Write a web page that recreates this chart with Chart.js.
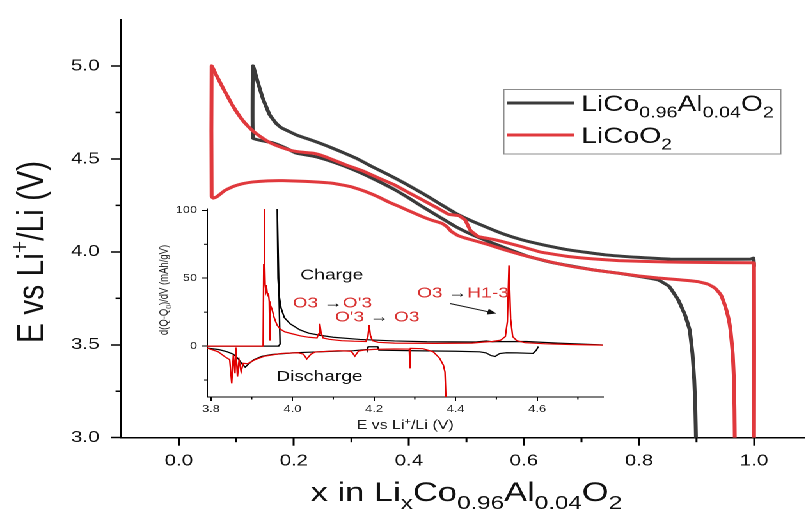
<!DOCTYPE html>
<html><head><meta charset="utf-8">
<script src="https://cdn.jsdelivr.net/npm/chart.js@4.4.1/dist/chart.umd.min.js"></script>
<style>
html,body{margin:0;padding:0;background:#fff;overflow:hidden;width:806px;height:510px;}
#stage{position:absolute;left:0;top:0;width:630px;height:510px;transform:scaleX(1.2794);transform-origin:0 0;}
#mainBox{position:absolute;left:0;top:0;width:630px;height:510px;}
#insetBox{position:absolute;left:115px;top:200px;width:360px;height:232px;}
</style></head><body>
<div id="stage"><div id="mainBox"><canvas id="main"></canvas></div><div id="insetBox"><canvas id="inset"></canvas></div></div>
<script>
// ---------- main plot data: [x in LixCo..., E (V)] ----------
const alCharge = [[1.0,3.92],[0.999,3.966],[0.994,3.961],[0.93,3.96],[0.855,3.961],[0.8,3.97],[0.741,3.984],[0.677,4.011],[0.63,4.04],[0.596,4.065],[0.565,4.095],[0.539,4.127],[0.51,4.165],[0.481,4.208],[0.452,4.262],[0.423,4.316],[0.395,4.365],[0.365,4.414],[0.335,4.46],[0.308,4.504],[0.285,4.535],[0.267,4.558],[0.245,4.585],[0.221,4.611],[0.205,4.628],[0.192,4.647],[0.178,4.668],[0.169,4.692],[0.158,4.737],[0.146,4.826],[0.137,4.916],[0.129,5.0]];
const alDischarge = [[0.129,4.611],[0.146,4.597],[0.165,4.585],[0.185,4.56],[0.204,4.531],[0.238,4.512],[0.265,4.487],[0.29,4.459],[0.32,4.42],[0.348,4.378],[0.375,4.335],[0.4,4.289],[0.423,4.244],[0.452,4.19],[0.481,4.136],[0.51,4.092],[0.539,4.055],[0.575,4.012],[0.608,3.975],[0.645,3.945],[0.68,3.925],[0.72,3.903],[0.764,3.885],[0.8,3.868],[0.833,3.849],[0.852,3.815],[0.868,3.742],[0.88,3.66],[0.888,3.58],[0.893,3.45],[0.896,3.31],[0.898,3.15],[0.899,3.0]];
const lcoCharge = [[1.0,3.0],[1.0,3.94],[0.994,3.941],[0.9,3.943],[0.85,3.945],[0.764,3.953],[0.72,3.962],[0.677,3.975],[0.63,3.998],[0.596,4.028],[0.55,4.065],[0.521,4.082],[0.507,4.115],[0.498,4.17],[0.487,4.194],[0.469,4.202],[0.45,4.235],[0.423,4.28],[0.4,4.318],[0.375,4.36],[0.348,4.396],[0.32,4.435],[0.29,4.468],[0.261,4.504],[0.245,4.522],[0.233,4.531],[0.218,4.535],[0.204,4.54],[0.19,4.55],[0.175,4.566],[0.16,4.585],[0.146,4.611],[0.129,4.65],[0.115,4.693],[0.106,4.728],[0.094,4.785],[0.085,4.835],[0.077,4.88],[0.065,4.952],[0.057,5.0]];
const lcoDischarge = [[0.057,4.297],[0.06,4.289],[0.066,4.296],[0.08,4.33],[0.094,4.351],[0.11,4.366],[0.129,4.376],[0.155,4.382],[0.181,4.383],[0.22,4.379],[0.267,4.369],[0.3,4.35],[0.325,4.324],[0.345,4.298],[0.365,4.268],[0.383,4.244],[0.405,4.214],[0.423,4.19],[0.44,4.17],[0.457,4.154],[0.466,4.135],[0.474,4.109],[0.485,4.088],[0.498,4.074],[0.52,4.055],[0.539,4.038],[0.565,4.012],[0.596,3.984],[0.64,3.95],[0.682,3.922],[0.72,3.903],[0.764,3.885],[0.8,3.87],[0.833,3.859],[0.87,3.85],[0.902,3.84],[0.92,3.826],[0.932,3.805],[0.942,3.77],[0.949,3.715],[0.955,3.65],[0.959,3.581],[0.963,3.45],[0.965,3.312],[0.966,3.15],[0.9665,3.0]];
const seriesLabels = ['LiCo_{0.96}Al_{0.04}O_{2}', 'LiCoO_{2}'];
const mainXTicks = [0.0,0.2,0.4,0.6,0.8,1.0];
const mainXMinor = [0.1,0.3,0.5,0.7,0.9];
const mainYTicks = [3.0,3.5,4.0,4.5,5.0];
const mainYMinor = [3.25,3.75,4.25,4.75];
const mainXTitle = 'x in Li_{x}Co_{0.96}Al_{0.04}O_{2}';
const mainYTitle = 'E vs Li^{+}/Li (V)';

// ---------- inset data: [E (V), d(Q-Q0)/dV] ----------
const insetRedCharge = [[3.791,0],[3.928,0],[3.9295,60],[3.930,104],[3.931,104],[3.932,70],[3.933,45],[3.935,40],[3.937,42],[3.939,37],[3.941,39],[3.943,33],[3.9445,4],[3.946,30],[3.950,27],[3.955,21],[3.962,15.5],[3.970,12.5],[3.981,10.5],[4.0,9],[4.02,7.5],[4.04,6.5],[4.06,6],[4.064,9],[4.067,16.5],[4.070,10],[4.075,6],[4.09,5],[4.12,4],[4.15,3.6],[4.18,3.4],[4.185,7],[4.188,15.5],[4.191,8],[4.196,4],[4.21,2.8],[4.25,2.2],[4.35,2.0],[4.44,2.2],[4.47,3.0],[4.49,3.4],[4.51,4.3],[4.522,7],[4.527,18],[4.531,59.5],[4.535,20],[4.54,7],[4.55,4],[4.57,2.5],[4.62,1.7],[4.68,1.2],[4.7615,0.7]];
const insetBlackCharge = [[3.791,0],[3.966,0],[3.9695,1.5],[3.9625,104],[3.9635,104],[3.9645,50],[3.967,38],[3.972,28],[3.98,21],[3.994,16.5],[4.018,12],[4.04,9.5],[4.067,8],[4.1,6.5],[4.165,4.9],[4.25,3.8],[4.329,3.2],[4.45,3.0],[4.475,3.8],[4.49,3.2],[4.5,3.3],[4.574,3.4],[4.65,2.2],[4.7615,0.8]];
const insetRedDischarge = [[4.3765,-40],[4.374,-19],[4.370,-14],[4.361,-9],[4.345,-4.2],[4.32,-1.9],[4.2895,-1.7],[4.288,-16.4],[4.2865,-2.2],[4.25,-2.1],[4.2,-2.4],[4.177,-2.9],[4.162,-3.6],[4.153,-7.4],[4.144,-3.8],[4.112,-3.4],[4.055,-4.4],[4.045,-6],[4.035,-9.5],[4.027,-6],[4.014,-4.9],[3.973,-5.4],[3.932,-7.4],[3.908,-10],[3.89,-13],[3.879,-12.7],[3.874,-18.9],[3.869,-10.3],[3.865,-22.5],[3.861,-1],[3.859,-20],[3.855,-6.6],[3.851,-27.4],[3.846,-10],[3.834,-7.8],[3.818,-4.2],[3.791,-1.5]];
const insetBlackDischarge = [[4.603,-0.3],[4.598,-3],[4.59,-5.4],[4.55,-5],[4.525,-4.9],[4.508,-5.5],[4.497,-7.6],[4.487,-7],[4.475,-5],[4.459,-4.2],[4.40,-3.8],[4.3,-3.4],[4.212,-3],[4.209,-0.5],[4.186,-0.5],[4.184,-2.5],[4.15,-3.4],[4.1,-3.8],[4.05,-4.4],[4.0,-5],[3.95,-6.2],[3.925,-7.5],[3.905,-10],[3.893,-13],[3.884,-15.5],[3.876,-13],[3.866,-9],[3.855,-6],[3.84,-4.2],[3.82,-2.6],[3.791,-1.5]];
const insetXTicks = [3.8,4.0,4.2,4.4,4.6];
const insetXMinor = [3.9,4.1,4.3,4.5,4.7];
const insetYTicks = [0,50,100];
const insetYMinor = [-25,25,75];
const insetXTitle = 'E vs Li^{+}/Li (V)';
const insetYTitle = 'd(Q-Q_{0})/dV (mAh/gV)';
const insetNotes = ['Charge', 'Discharge', "O3 \u2192O'3", "O'3 \u2192 O3", 'O3 \u2192H1-3'];
const insetNoteAt = [[4.0966,52.2],[4.066,-22.8],[4.0978,31.6],[4.208,21.3],[4.418,38.8]];
const insetNoteColor = ['#111','#111','#d8302f','#d8302f','#d8302f'];
const insetArrow = [[4.386,31.4],[4.5,24]];

// ---------- styles ----------
const FONT = "'Liberation Sans', Arial, Helvetica, sans-serif";
const mainBlack = '#3b3b3b', mainRed = '#e0393d';
const insetBlack = '#000000', insetRed = '#e00000';

function fontOf(sz, bold){ return (bold ? 'bold ' : '') + sz + 'px ' + FONT; }
function toXY(a){ return a.map(p => ({x:p[0], y:p[1]})); }
function parseRich(s){
  const out = []; const re = /([_^])\{([^}]*)\}/g; let last = 0, m;
  while ((m = re.exec(s))) {
    if (m.index > last) out.push({t:s.slice(last, m.index), k:0});
    out.push({t:m[2], k: m[1] === '_' ? 1 : 2});
    last = re.lastIndex;
  }
  if (last < s.length) out.push({t:s.slice(last), k:0});
  return out;
}
function drawRich(ctx, s, x, y, size, align, color){
  const segs = parseRich(s), ss = size * 0.7;
  let w = 0;
  segs.forEach(g => { ctx.font = fontOf(g.k ? ss : size); g.w = ctx.measureText(g.t).width; w += g.w; });
  let cx = align === 'center' ? x - w / 2 : x;
  ctx.fillStyle = color; ctx.textAlign = 'left'; ctx.textBaseline = 'alphabetic';
  segs.forEach(g => {
    ctx.font = fontOf(g.k ? ss : size);
    const dy = g.k === 1 ? size * 0.3 : (g.k === 2 ? -size * 0.38 : 0);
    ctx.fillText(g.t, cx, y + dy); cx += g.w;
  });
}
function drawMinor(chart, id, values, len, width){
  const s = chart.scales[id], ctx = chart.ctx;
  ctx.save(); ctx.strokeStyle = '#000'; ctx.lineWidth = width;
  values.forEach(v => {
    const p = s.getPixelForValue(v);
    ctx.beginPath();
    if (s.isHorizontal()) { ctx.moveTo(p, s.top); ctx.lineTo(p, s.top + len); }
    else { ctx.moveTo(s.right, p); ctx.lineTo(s.right - len, p); }
    ctx.stroke();
  });
  ctx.restore();
}
function zeroPad(s){ s.paddingLeft = 0; s.paddingRight = 0; s.paddingTop = 0; s.paddingBottom = 0; }
function fmt1(v){ return Number(v).toFixed(1); }

const mainDeco = {
  id: 'mainDeco',
  afterDraw(chart){
    const ctx = chart.ctx;
    drawMinor(chart, 'x', mainXMinor, 4.5, 1.5);
    drawMinor(chart, 'y', mainYMinor, 4.5, 1.5);
    ctx.save();
    drawRich(ctx, mainXTitle, 364.5, 501, 27, 'center', '#111');
    ctx.save(); ctx.translate(34, 252); ctx.rotate(-Math.PI / 2);
    drawRich(ctx, mainYTitle, 0, 0, 30, 'center', '#111');
    ctx.restore();
    // legend
    ctx.strokeStyle = '#8c8c8c'; ctx.lineWidth = 1;
    ctx.strokeRect(393.75, 89.5, 216.5, 64.5);
    chart.data.datasets.forEach((ds, i) => {
      const y = 103 + i * 32;
      ctx.strokeStyle = ds.borderColor; ctx.lineWidth = 3;
      ctx.beginPath(); ctx.moveTo(396, y); ctx.lineTo(448.5, y); ctx.stroke();
      drawRich(ctx, seriesLabels[i], 454.4, y + 8, 22, 'left', '#111');
    });
    ctx.restore();
  }
};

const insetDeco = {
  id: 'insetDeco',
  afterDraw(chart){
    const ctx = chart.ctx, a = chart.chartArea, xs = chart.scales.x, ys = chart.scales.y;
    drawMinor(chart, 'x', insetXMinor, 2.5, 1);
    drawMinor(chart, 'y', insetYMinor, 2.5, 1);
    ctx.save();
    drawRich(ctx, insetXTitle, (a.left + a.right) / 2, 229, 12.5, 'center', '#222');
    ctx.save(); ctx.translate(16, 90); ctx.rotate(-Math.PI / 2);
    drawRich(ctx, insetYTitle, 0, 0, 9.5, 'center', '#222');
    ctx.restore();
    // annotations
    insetNotes.forEach((t, i) => {
      const px = xs.getPixelForValue(insetNoteAt[i][0]), py = ys.getPixelForValue(insetNoteAt[i][1]);
      const parts = t.split('\u2192');
      ctx.textBaseline = 'middle'; ctx.textAlign = 'left';
      ctx.font = fontOf(15, true);
      const arrowW = ctx.measureText('\u2192').width;
      ctx.font = fontOf(15);
      let w = 0; parts.forEach(p => { w += ctx.measureText(p).width; });
      w += (parts.length - 1) * arrowW;
      let cx = px - w / 2;
      parts.forEach((p, j) => {
        ctx.font = fontOf(15);
        ctx.fillStyle = insetNoteColor[i]; ctx.fillText(p, cx, py); cx += ctx.measureText(p).width;
        if (j < parts.length - 1) { ctx.font = fontOf(15, true); ctx.fillStyle = '#111'; ctx.fillText('\u2192', cx, py); cx += arrowW; }
      });
    });
    // arrow
    const x1 = xs.getPixelForValue(insetArrow[0][0]), y1 = ys.getPixelForValue(insetArrow[0][1]);
    const x2 = xs.getPixelForValue(insetArrow[1][0]), y2 = ys.getPixelForValue(insetArrow[1][1]);
    const ang = Math.atan2(y2 - y1, x2 - x1);
    ctx.strokeStyle = '#111'; ctx.fillStyle = '#111'; ctx.lineWidth = 1;
    ctx.beginPath(); ctx.moveTo(x1, y1); ctx.lineTo(x2 - 5 * Math.cos(ang), y2 - 5 * Math.sin(ang)); ctx.stroke();
    ctx.beginPath(); ctx.moveTo(x2, y2);
    ctx.lineTo(x2 - 7 * Math.cos(ang) + 3 * Math.sin(ang), y2 - 7 * Math.sin(ang) - 3 * Math.cos(ang));
    ctx.lineTo(x2 - 7 * Math.cos(ang) - 3 * Math.sin(ang), y2 - 7 * Math.sin(ang) + 3 * Math.cos(ang));
    ctx.closePath(); ctx.fill();
    ctx.restore();
  }
};

new Chart(document.getElementById('main'), {
  type: 'scatter',
  data: { datasets: [
    { label: 'LiCo0.96Al0.04O2', data: toXY(alCharge.concat(alDischarge)), borderColor: mainBlack, backgroundColor: mainBlack, showLine: true, borderWidth: 3, pointRadius: 0, tension: 0.1, order: 1 },
    { label: 'LiCoO2', data: toXY(lcoCharge.concat(lcoDischarge)), borderColor: mainRed, backgroundColor: mainRed, showLine: true, borderWidth: 3, pointRadius: 0, tension: 0.1, order: 0 }
  ]},
  options: {
    responsive: true, maintainAspectRatio: false, animation: false, devicePixelRatio: 2, events: [],
    layout: { padding: { left: 0, right: 0, top: 19.5, bottom: 0 } },
    plugins: { legend: { display: false }, tooltip: { enabled: false } },
    scales: {
      x: { type: 'linear', min: -0.1, max: 1.087,
        afterBuildTicks: s => { s.ticks = mainXTicks.map(v => ({value: v})); },
        afterFit: s => { s.height = 72.3; zeroPad(s); },
        grid: { drawOnChartArea: false, drawTicks: true, tickLength: 8, tickWidth: 1.5, tickColor: '#000' },
        border: { display: true, color: '#000', width: 1.5 },
        ticks: { font: { family: FONT, size: 16 }, color: '#111', padding: 6, maxRotation: 0, autoSkip: false, callback: fmt1 } },
      y: { type: 'linear', min: 3.0, max: 5.25,
        afterBuildTicks: s => { s.ticks = mainYTicks.map(v => ({value: v})); },
        afterFit: s => { s.width = 94.8; zeroPad(s); },
        grid: { drawOnChartArea: false, drawTicks: true, tickLength: 8, tickWidth: 1.5, tickColor: '#000' },
        border: { display: true, color: '#000', width: 1.5 },
        ticks: { font: { family: FONT, size: 16 }, color: '#111', padding: 9, autoSkip: false, callback: fmt1 } }
    }
  },
  plugins: [mainDeco]
});

new Chart(document.getElementById('inset'), {
  type: 'scatter',
  data: { datasets: [
    { label: 'LiCoO2 charge', data: toXY(insetRedCharge), borderColor: insetRed, showLine: true, borderWidth: 1.2, pointRadius: 0, tension: 0, order: 0 },
    { label: 'LiCoO2 discharge', data: toXY(insetRedDischarge), borderColor: insetRed, showLine: true, borderWidth: 1.2, pointRadius: 0, tension: 0, order: 0 },
    { label: 'LiCo0.96Al0.04O2 charge', data: toXY(insetBlackCharge), borderColor: insetBlack, showLine: true, borderWidth: 1.2, pointRadius: 0, tension: 0, order: 1 },
    { label: 'LiCo0.96Al0.04O2 discharge', data: toXY(insetBlackDischarge), borderColor: insetBlack, showLine: true, borderWidth: 1.2, pointRadius: 0, tension: 0, order: 1 }
  ]},
  options: {
    responsive: true, maintainAspectRatio: false, animation: false, devicePixelRatio: 2, events: [],
    layout: { padding: { left: 0, right: 3.7, top: 9, bottom: 0 } },
    plugins: { legend: { display: false }, tooltip: { enabled: false } },
    scales: {
      x: { type: 'linear', min: 3.791, max: 4.7615,
        afterBuildTicks: s => { s.ticks = insetXTicks.map(v => ({value: v})); },
        afterFit: s => { s.height = 35; zeroPad(s); },
        grid: { drawOnChartArea: false, drawTicks: true, tickLength: 4, tickWidth: 1, tickColor: '#000' },
        border: { display: true, color: '#000', width: 1 },
        ticks: { font: { family: FONT, size: 10 }, color: '#222', padding: 2, maxRotation: 0, autoSkip: false, callback: fmt1 } },
      y: { type: 'linear', min: -37.5, max: 101,
        afterBuildTicks: s => { s.ticks = insetYTicks.map(v => ({value: v})); },
        afterFit: s => { s.width = 47; zeroPad(s); },
        grid: { drawOnChartArea: false, drawTicks: true, tickLength: 4, tickWidth: 1, tickColor: '#000' },
        border: { display: true, color: '#000', width: 1 },
        ticks: { font: { family: FONT, size: 10 }, color: '#222', padding: 4, autoSkip: false, callback: v => String(v) } }
    }
  },
  plugins: [insetDeco]
});
</script></body></html>
